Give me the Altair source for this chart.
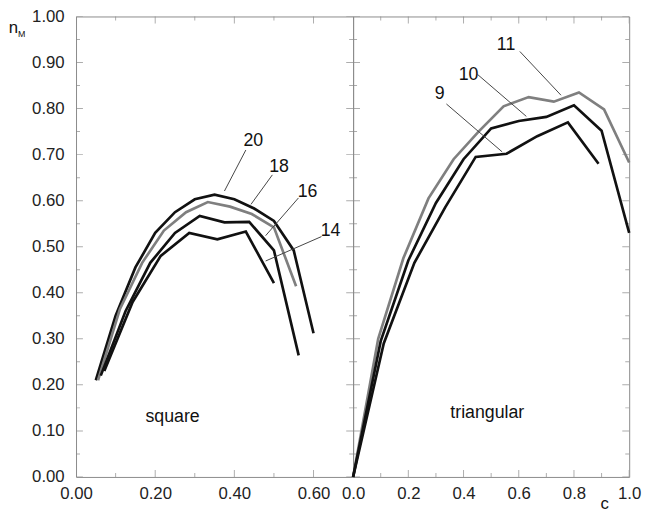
import altair as alt
import pandas as pd

FONT = "Liberation Sans"

# ---------------- data: square lattice (left panel) ----------------
sq_c_20 = [0.05, 0.10, 0.15, 0.20, 0.25, 0.30, 0.35, 0.40, 0.45, 0.50, 0.55, 0.60]
sq_n_20 = [0.21, 0.35, 0.455, 0.53, 0.575, 0.603, 0.613, 0.603, 0.583, 0.556, 0.492, 0.312]
sq_c_18 = [0.0556, 0.111, 0.167, 0.222, 0.278, 0.333, 0.389, 0.444, 0.5, 0.556]
sq_n_18 = [0.21, 0.365, 0.465, 0.535, 0.575, 0.597, 0.587, 0.571, 0.542, 0.414]
sq_c_16 = [0.0625, 0.125, 0.1875, 0.25, 0.3125, 0.375, 0.4375, 0.5, 0.5625]
sq_n_16 = [0.22, 0.36, 0.465, 0.53, 0.567, 0.553, 0.554, 0.492, 0.264]
sq_c_14 = [0.0714, 0.143, 0.214, 0.286, 0.357, 0.429, 0.5]
sq_n_14 = [0.23, 0.38, 0.48, 0.53, 0.516, 0.533, 0.421]

# ---------------- data: triangular lattice (right panel) ----------------
tri_c_11 = [0, 0.0909, 0.182, 0.273, 0.364, 0.4545, 0.545, 0.636, 0.727, 0.818, 0.909, 1.0]
tri_n_11 = [0, 0.30, 0.475, 0.605, 0.69, 0.75, 0.805, 0.825, 0.815, 0.835, 0.798, 0.683]
tri_c_10 = [0, 0.1, 0.2, 0.3, 0.4, 0.5, 0.6, 0.7, 0.8, 0.9, 1.0]
tri_n_10 = [0, 0.295, 0.47, 0.595, 0.69, 0.757, 0.773, 0.782, 0.807, 0.752, 0.53]
tri_c_9 = [0, 0.111, 0.222, 0.333, 0.444, 0.556, 0.667, 0.778, 0.889]
tri_n_9 = [0, 0.29, 0.465, 0.585, 0.695, 0.702, 0.74, 0.77, 0.68]

# curve labels and leader lines
sq_lab = ["20", "18", "16", "14"]
sq_lab_c = [0.448, 0.513, 0.585, 0.643]
sq_lab_n = [0.729, 0.673, 0.619, 0.533]
sq_lead_c1 = [0.429, 0.496, 0.562, 0.620]
sq_lead_n1 = [0.710, 0.656, 0.606, 0.522]
sq_lead_c2 = [0.375, 0.442, 0.479, 0.479]
sq_lead_n2 = [0.621, 0.592, 0.524, 0.469]

tri_lab = ["11", "10", "9"]
tri_lab_c = [0.554, 0.418, 0.314]
tri_lab_n = [0.939, 0.872, 0.832]
tri_lead_c1 = [0.604, 0.451, 0.338]
tri_lead_n1 = [0.924, 0.874, 0.810]
tri_lead_c2 = [0.753, 0.6275, 0.540]
tri_lead_n2 = [0.829, 0.783, 0.706]

# axis tick values
sq_xmajor = [0.0, 0.2, 0.4, 0.6]
sq_xminor = [0.1, 0.3, 0.5]
tri_xmajor = [0.0, 0.2, 0.4, 0.6, 0.8, 1.0]
tri_xminor = [0.1, 0.3, 0.5, 0.7, 0.9]
ymajor = [0.0, 0.1, 0.2, 0.3, 0.4, 0.5, 0.6, 0.7, 0.8, 0.9, 1.0]
yminor = [0.05, 0.15, 0.25, 0.35, 0.45, 0.55, 0.65, 0.75, 0.85, 0.95]

BLACK = "#111111"
GRAY = "#7f7f7f"
FRAME = "#8a8a8a"
W_L, W_R, H = 281, 280, 467


def curves_df(cs, ns, names, cols):
    rows = []
    for c, n, name, col in zip(cs, ns, names, cols):
        for a, b in zip(c, n):
            rows.append({"c": a, "n": b, "s": name, "col": col})
    return pd.DataFrame(rows)


def ticks_rows(xmaj, xmin, xmax, orient):
    rows = []
    if orient == "v":
        for v, ln in [(v, 7) for v in xmaj] + [(v, 4) for v in xmin]:
            for edge in (0.0, 1.0):
                rows.append({"c": v, "n": edge, "len": 2 * ln})
    else:
        for v, ln in [(v, 7) for v in ymajor] + [(v, 4) for v in yminor]:
            for edge in (0.0, xmax):
                rows.append({"c": edge, "n": v, "len": 2 * ln})
    return pd.DataFrame(rows)


def panel(df_curves, xmax, width, xmaj, xmin, xfmt, show_y,
          labs, lab_c, lab_n, l1c, l1n, l2c, l2n, extra_text):
    xs = alt.Scale(domain=[0, xmax], nice=False, zero=False)
    ys = alt.Scale(domain=[0, 1], nice=False, zero=False)
    xaxis = alt.Axis(values=xmaj, format=xfmt, ticks=False, domain=False,
                     grid=False, title=None, labelFontSize=17, labelFont=FONT,
                     labelColor="#222222", labelPadding=9, labelFlush=False,
                     labelOverlap=False)
    if show_y:
        yaxis = alt.Axis(values=ymajor, format=".2f", ticks=False, domain=False,
                         grid=False, title=None, labelFontSize=17, labelFont=FONT,
                         labelColor="#222222", labelPadding=12, labelFlush=False,
                         labelOverlap=False)
    else:
        yaxis = alt.Axis(labels=False, ticks=False, domain=False, grid=False, title=None)

    X = lambda f: alt.X(f, scale=xs, axis=xaxis)
    Y = lambda f: alt.Y(f, scale=ys, axis=yaxis)

    lines = alt.Chart(df_curves).mark_line(strokeWidth=2.7, strokeJoin="miter").encode(
        x=X("c:Q"), y=Y("n:Q"),
        color=alt.Color("col:N", scale=None),
        detail="s:N",
        order="c:Q",
    )

    tv = alt.Chart(ticks_rows(xmaj, xmin, xmax, "v")).mark_tick(
        orient="vertical", clip=True, color=FRAME, thickness=1).encode(
        x=X("c:Q"), y=Y("n:Q"), size=alt.Size("len:Q", scale=None))
    th = alt.Chart(ticks_rows(xmaj, xmin, xmax, "h")).mark_tick(
        orient="horizontal", clip=True, color=FRAME, thickness=1).encode(
        x=X("c:Q"), y=Y("n:Q"), size=alt.Size("len:Q", scale=None))

    ldf = pd.DataFrame({"lab": labs, "c": lab_c, "n": lab_n,
                        "c1": l1c, "n1": l1n, "c2": l2c, "n2": l2n})
    leaders = alt.Chart(ldf).mark_rule(color="#444444", strokeWidth=1).encode(
        x=X("c1:Q"), y=Y("n1:Q"), x2="c2:Q", y2="n2:Q")
    labels = alt.Chart(ldf).mark_text(font=FONT, fontSize=18, color="#111111",
                                      align="center", baseline="middle").encode(
        x=X("c:Q"), y=Y("n:Q"), text="lab:N")

    layers = [tv, th, lines, leaders, labels]
    for t in extra_text:
        tdf2 = pd.DataFrame({"c": [t[1]], "n": [t[2]], "t": [t[0]]})
        layers.append(alt.Chart(tdf2).mark_text(
            font=FONT, fontSize=t[3], color="#111111", align=t[4], baseline=t[5]).encode(
            x=X("c:Q"), y=Y("n:Q"), text="t:N"))
    return alt.layer(*layers).properties(width=width, height=H)


sq_df = curves_df([sq_c_20, sq_c_18, sq_c_16, sq_c_14],
                  [sq_n_20, sq_n_18, sq_n_16, sq_n_14], ["20", "18", "16", "14"],
                  [BLACK, GRAY, BLACK, BLACK])
tri_df = curves_df([tri_c_11, tri_c_10, tri_c_9],
                   [tri_n_11, tri_n_10, tri_n_9], ["11", "10", "9"],
                   [GRAY, BLACK, BLACK])

left = panel(sq_df, 0.7, W_L, sq_xmajor, sq_xminor, ".2f", True,
             sq_lab, sq_lab_c, sq_lab_n,
             sq_lead_c1, sq_lead_n1, sq_lead_c2, sq_lead_n2,
             [("square", 0.244, 0.130, 18, "center", "middle"),
              ("n", -0.17, 0.9636, 17, "left", "alphabetic"),
              ("M", -0.1465, 0.955, 9, "left", "alphabetic")])
right = panel(tri_df, 1.0, W_R, tri_xmajor, tri_xminor, ".1f", False,
              tri_lab, tri_lab_c, tri_lab_n,
              tri_lead_c1, tri_lead_n1, tri_lead_c2, tri_lead_n2,
              [("triangular", 0.486, 0.138, 18, "center", "middle"),
               ("c", 0.911, -0.058, 17, "center", "middle")])

chart = alt.hconcat(left, right, spacing=0, bounds="flush").properties(
    padding={"left": 0, "top": -5, "right": 0, "bottom": 0}
).configure_view(stroke=FRAME, strokeWidth=1)

chart.save("out.html", embed_options={"renderer": "svg", "actions": False})
